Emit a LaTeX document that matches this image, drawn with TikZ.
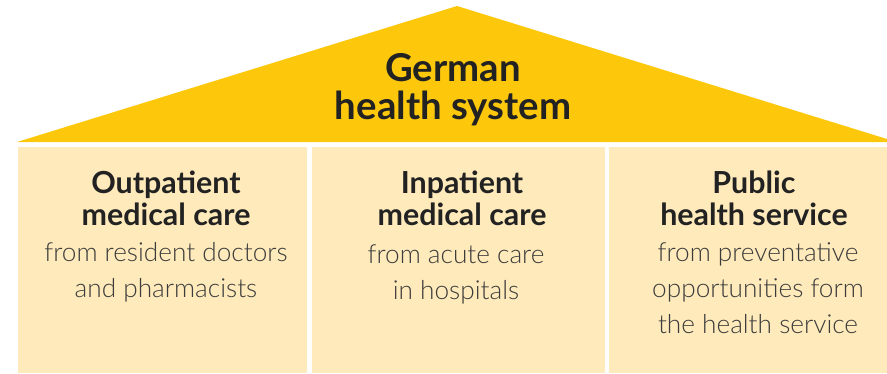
\documentclass[tikz,border=0pt]{standalone}
\usepackage{fontspec}
\setmainfont{Lato}
\newfontfamily\lightfont{Lato Light}
\definecolor{roof}{RGB}{253,200,12}
\definecolor{wall}{RGB}{254,234,186}
\definecolor{ink}{RGB}{34,34,34}
\definecolor{softink}{RGB}{60,60,60}
\tikzset{
  roofshape/.style={fill=roof,draw=none},
  pillar/.style={fill=wall,draw=none},
  titletext/.style={font=\bfseries\fontsize{38.5}{38}\selectfont,text=ink,align=center,anchor=base,inner sep=0pt},
  headtext/.style={font=\bfseries\fontsize{30.5}{32}\selectfont,text=ink,align=center,anchor=base,inner sep=0pt},
  bodytext/.style={font=\lightfont\fontsize{26.3}{36}\selectfont,text=softink,align=center,anchor=base,inner sep=0pt}
}
\begin{document}
\begin{tikzpicture}[x=1bp,y=-1bp]
\useasboundingbox (0,0) rectangle (887,373);
\fill[roofshape] (17,142) coordinate (rl) -- (457,6) coordinate (apex) -- (887,139) coordinate (rr) -- (887,142) -- cycle;
\fill[pillar] (18,147) rectangle (307,373);
\fill[pillar] (312,147) rectangle (605,373);
\fill[pillar] (609,147) rectangle (887,373);
\node[titletext] (title) at (453,119) {German\\health system};
\node[headtext] (h1) at (166,225) {Outpatient\\medical care};
\node[bodytext] (b1) at (166,297) {from resident doctors\\and pharmacists};
\node[headtext] (h2) at (462,225) {Inpatient\\medical care};
\node[bodytext] (b2) at (456,299) {from acute care\\in hospitals};
\node[headtext] (h3) at (754,225) {Public\\health service};
\node[bodytext] (b3) at (758,333) {from preventative\\opportunities form\\the health service};
\end{tikzpicture}
\end{document}
